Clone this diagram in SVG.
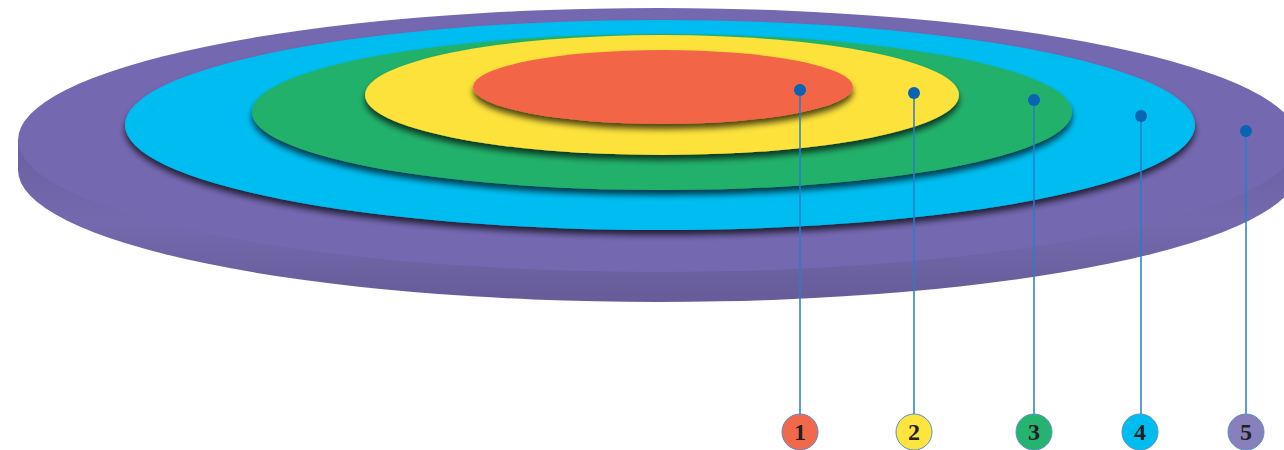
<svg xmlns="http://www.w3.org/2000/svg" width="1284" height="450" viewBox="0 0 1284 450">
<defs>
<filter id="sh" x="-10%" y="-30%" width="120%" height="170%">
<feGaussianBlur in="SourceAlpha" stdDeviation="3"/>
<feOffset dx="0" dy="5" result="b"/>
<feComponentTransfer><feFuncA type="linear" slope="0.7"/></feComponentTransfer>
<feMerge><feMergeNode/><feMergeNode in="SourceGraphic"/></feMerge>
</filter>
<linearGradient id="side" x1="0" y1="0" x2="0" y2="1">
<stop offset="0" stop-color="#6a5f9f"/>
<stop offset="0.5" stop-color="#7469ae"/>
<stop offset="1" stop-color="#675c98"/>
</linearGradient>
<style>
.conn{stroke:#2a7cc8;stroke-width:1.5;fill:none}
.dot{fill:#0b63b4}
.badge{stroke:#5a8fc4;stroke-width:1}
.num{font-family:"Liberation Serif",serif;font-weight:bold;font-size:24px;fill:#231f20;text-anchor:middle}
</style>
</defs>
<g id="disk">
<path d="M18,140 L18,170 A640,132 0 0 0 1298,170 L1298,140 Z" fill="url(#side)"/>
<ellipse cx="658" cy="140" rx="640" ry="132" fill="#7468b1"/>
</g>
<g id="ring4"><ellipse cx="660" cy="125" rx="535" ry="105" fill="#00bdf1" filter="url(#sh)"/></g>
<g id="ring3"><ellipse cx="662" cy="112" rx="410" ry="78" fill="#23b16b" filter="url(#sh)"/></g>
<g id="ring2"><ellipse cx="662" cy="95" rx="297" ry="60" fill="#fde23a" filter="url(#sh)"/></g>
<g id="ring1"><ellipse cx="663" cy="87" rx="190" ry="37" fill="#f26646" filter="url(#sh)"/></g>
<g id="connectors">
<line class="conn" x1="800" y1="90" x2="800" y2="414"/>
<line class="conn" x1="914" y1="93" x2="914" y2="414"/>
<line class="conn" x1="1034" y1="100" x2="1034" y2="414"/>
<line class="conn" x1="1141" y1="116" x2="1141" y2="414"/>
<line class="conn" x1="1246" y1="131" x2="1246" y2="414"/>
<circle class="dot" cx="800" cy="90" r="6"/>
<circle class="dot" cx="914" cy="93" r="6"/>
<circle class="dot" cx="1034" cy="100" r="6"/>
<circle class="dot" cx="1141" cy="116" r="6"/>
<circle class="dot" cx="1246" cy="131" r="6"/>
</g>
<g id="label1"><circle class="badge" cx="800" cy="432" r="18" fill="#f2684a"/><text class="num" x="800" y="440">1</text></g>
<g id="label2"><circle class="badge" cx="914" cy="432" r="18" fill="#fde53e"/><text class="num" x="914" y="440">2</text></g>
<g id="label3"><circle class="badge" cx="1034" cy="432" r="18" fill="#25b36f"/><text class="num" x="1034" y="440">3</text></g>
<g id="label4"><circle class="badge" cx="1140" cy="432" r="18" fill="#00bdf0"/><text class="num" x="1140" y="440">4</text></g>
<g id="label5"><circle class="badge" cx="1246" cy="432" r="18" fill="#8880bd"/><text class="num" x="1246" y="440">5</text></g>
</svg>
